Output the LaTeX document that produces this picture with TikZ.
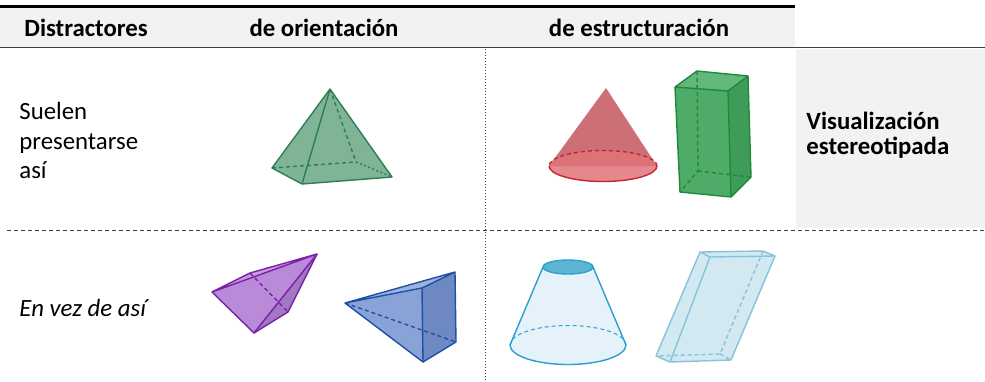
\documentclass[tikz,border=0pt]{standalone}
\usepackage{fontspec}
\setmainfont{Carlito}
\usepackage{tikz}

\definecolor{headgray}{HTML}{F2F2F2}
\definecolor{rulegray}{HTML}{404040}
\definecolor{pyrfill}{HTML}{7FB596}
\definecolor{pyrline}{HTML}{2F7D57}
\definecolor{conefill}{HTML}{CC6F76}
\definecolor{conebase}{HTML}{E0737A}
\definecolor{coneline}{HTML}{C4262E}
\definecolor{boxfill}{HTML}{4FAB68}
\definecolor{boxdark}{HTML}{3F9C58}
\definecolor{boxtop}{HTML}{62B878}
\definecolor{boxline}{HTML}{1F8A3B}
\definecolor{purfill}{HTML}{B98AD8}
\definecolor{purdark}{HTML}{A277C4}
\definecolor{purtop}{HTML}{C79CE0}
\definecolor{purline}{HTML}{7B1FA8}
\definecolor{blufill}{HTML}{8AA3D6}
\definecolor{bludark}{HTML}{6E88C2}
\definecolor{blutop}{HTML}{9DB2DD}
\definecolor{bluline}{HTML}{1E50A8}
\definecolor{frfill}{HTML}{E5F2F9}
\definecolor{frtop}{HTML}{5BB5D3}
\definecolor{frline}{HTML}{2B9FCF}
\definecolor{prfill}{HTML}{D3E9F2}
\definecolor{prline}{HTML}{86C2D8}

\tikzset{
  edge/.style={line width=0.7pt, line join=round},
  hidden/.style={edge, dash pattern=on 2pt off 1.5pt},
  txt/.style={inner sep=0pt, font=\fontsize{12.4}{15}\selectfont},
  hdr/.style={inner sep=0pt, font=\fontsize{12.4}{15}\selectfont\bfseries},
}

\begin{document}
\begin{tikzpicture}[x=0.5pt,y=-0.5pt]
 \useasboundingbox (0,0) rectangle (985,381);
%
 \fill[headgray] (0,8) rectangle (795,47);
 \fill[headgray] (796,48.5) rectangle (985,228);
 \draw[line width=1.5pt] (0,6.5) -- (795,6.5);
 \draw[rulegray, line width=0.75pt] (0,47.5) -- (985,47.5);
 \draw[rulegray, line width=0.5pt, dash pattern=on 2pt off 1.5pt] (7,230) -- (985,230);
 \draw[rulegray, line width=0.5pt, dash pattern=on 0.5pt off 1pt] (485,49) -- (485,381);
%
 \node[hdr, anchor=base west] (dist) at (24,36.5) {Distractores};
 \node[hdr, anchor=base] (orient) at (324,36.5) {de orientación};
 \node[hdr, anchor=base] (estruc) at (639,36.5) {de estructuración};
 \node[txt, anchor=base west] (suelen) at (19,119) {Suelen};
 \node[txt, anchor=base west] (present) at (19,149) {presentarse};
 \node[txt, anchor=base west] (asi) at (19,178) {así};
 \node[txt, anchor=base west] (envez) at (19,316) {\itshape En vez de así};
 \node[hdr, anchor=base west] (visual) at (806,129) {Visualización};
 \node[hdr, anchor=base west] (estereo) at (806,154) {estereotipada};
%
 % green pyramid
 \fill[pyrfill] (272,168) -- (330,89) -- (392,177) -- (302,184) -- cycle;
 \draw[pyrline, edge] (272,168) -- (330,89) -- (392,177) -- (302,184) -- cycle;
 \draw[pyrline, edge] (330,89) -- (302,184);
 \draw[pyrline, hidden] (330,89) -- (356,162);
 \draw[pyrline, hidden] (272,168) -- (356,162);
 \draw[pyrline, edge, dash pattern=on 1pt off 1.2pt] (356,162) -- (392,177);
%
 % red cone
 \fill[conefill] (606,88) -- (549,166) -- (657,166) -- cycle;
 \fill[conebase, fill opacity=0.85] (603,166) ellipse[x radius=54, y radius=15.5];
 \draw[coneline, edge] (549,166) arc[start angle=180, end angle=0, x radius=54, y radius=15.5];
 \draw[coneline, hidden] (657,166) arc[start angle=0, end angle=-180, x radius=54, y radius=15.5];
%
 % green box
 \fill[boxfill] (675,87) -- (728,91) -- (731,197) -- (680,192) -- cycle;
 \fill[boxdark] (728,91) -- (748,76) -- (751,177) -- (731,197) -- cycle;
 \fill[boxtop] (697,71) -- (748,76) -- (728,91) -- (675,87) -- cycle;
 \draw[boxline, hidden] (697,71) -- (698,171) -- (680,192);
 \draw[boxline, hidden] (698,171) -- (751,177);
 \draw[boxline, edge] (697,71) -- (748,76) -- (728,91) -- (675,87) -- cycle;
 \draw[boxline, edge] (675,87) -- (680,192) -- (731,197) -- (751,177) -- (748,76);
 \draw[boxline, edge] (728,91) -- (731,197);
%
 % purple pyramid
 \fill[purtop] (212,292) -- (250,273) -- (317,254) -- cycle;
 \fill[purfill] (212,292) -- (317,254) -- (254,333) -- cycle;
 \fill[purdark] (254,333) -- (317,254) -- (288,312) -- cycle;
 \draw[purline, hidden] (250,273) -- (288,312);
 \draw[purline, edge] (212,292) -- (250,273) -- (317,254) -- cycle;
 \draw[purline, edge] (212,292) -- (254,333) -- (317,254);
 \draw[purline, edge] (254,333) -- (288,312) -- (317,254);
%
 % blue pyramid
 \fill[blutop] (345,303) -- (455,272) -- (422,288) -- cycle;
 \fill[blufill] (345,303) -- (422,288) -- (423,362) -- cycle;
 \fill[bludark] (422,288) -- (455,272) -- (456,342) -- (423,362) -- cycle;
 \draw[bluline, hidden] (345,303) -- (456,342);
 \draw[bluline, edge] (345,303) -- (455,272) -- (422,288) -- cycle;
 \draw[bluline, edge] (345,303) -- (423,362) -- (456,342) -- (455,272);
 \draw[bluline, edge] (422,288) -- (423,362);
%
 % frustum
 \fill[frfill] (543,267) -- (510,345) arc[start angle=180, end angle=0, x radius=58, y radius=19.5] -- (593,267) -- cycle;
 \draw[frline, edge] (543,267) -- (510,345) arc[start angle=180, end angle=0, x radius=58, y radius=19.5] -- (593,267);
 \draw[frline, hidden, line width=0.5pt] (626,345) arc[start angle=0, end angle=-180, x radius=58, y radius=19.5];
 \draw[frline, edge, fill=frtop] (568,267) ellipse[x radius=25, y radius=7];
%
 % slanted prism
 \fill[prfill] (700,252) -- (763,251) -- (775,256) -- (731,360) -- (670,362) -- (656,356) -- cycle;
 \draw[prline, hidden] (763,251) -- (720,354) -- (656,356);
 \draw[prline, hidden] (720,354) -- (731,360);
 \draw[prline, edge] (700,252) -- (763,251) -- (775,256) -- (710,257) -- cycle;
 \draw[prline, edge] (710,257) -- (670,362) -- (731,360) -- (775,256);
 \draw[prline, edge] (700,252) -- (656,356) -- (670,362);
\end{tikzpicture}
\end{document}
